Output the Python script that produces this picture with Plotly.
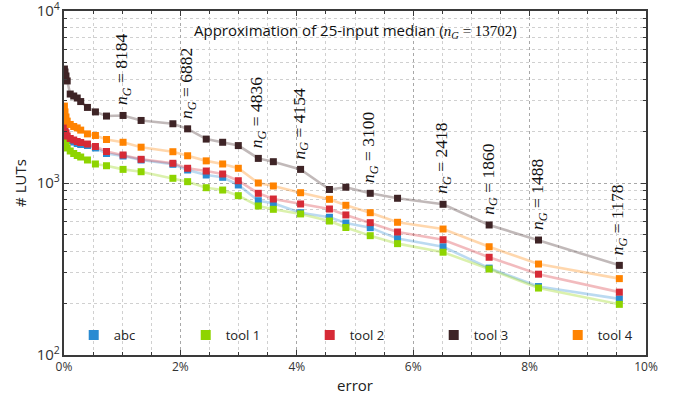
import math
import plotly.graph_objects as go

# error in percent (x positions of each configuration)
error_pct = [0.007, 0.017, 0.034, 0.055, 0.107, 0.167, 0.227, 0.287, 0.403, 0.540,
             0.730, 1.015, 1.325, 1.871, 2.124, 2.444, 2.726, 2.995, 3.339, 3.597,
             4.065, 4.561, 4.843, 5.262, 5.731, 6.513, 7.305, 8.153, 9.542]

abc = [2060, 1955, 1875, 1800, 1767, 1731, 1697, 1674, 1652, 1598, 1484, 1435, 1361,
       1284, 1190, 1113, 1079, 974, 789, 762, 672, 632, 585, 550, 475, 426, 320, 250, 212]
tool1 = [1955, 1800, 1685, 1598, 1535, 1484, 1445, 1416, 1361, 1290, 1260, 1200, 1163,
         1065, 1018, 939, 910, 844, 735, 703, 661, 601, 551, 494, 444, 396, 316, 245, 197]
tool2 = [2145, 2030, 1955, 1875, 1815, 1778, 1743, 1720, 1685, 1630, 1525, 1455, 1373,
         1302, 1218, 1174, 1128, 1031, 871, 807, 755, 706, 652, 588, 519, 468, 370, 295, 232]
tool3 = [4600, 4420, 4190, 3920, 3290, 3205, 3120, 2975, 2750, 2590, 2450, 2470, 2310,
         2210, 2065, 1800, 1725, 1650, 1390, 1330, 1200, 917, 945, 871, 815, 752, 570, 466, 332]
tool4 = [2800, 2590, 2420, 2290, 2190, 2130, 2090, 2030, 1930, 1890, 1790, 1725, 1615,
         1520, 1440, 1345, 1290, 1218, 1000, 961, 878, 804, 742, 672, 591, 540, 426, 338, 278]

series_names = ["abc", "tool 1", "tool 2", "tool 3", "tool 4"]
series_values = [abc, tool1, tool2, tool3, tool4]
series_colors = ["#2a8bd2", "#8ed400", "#d62a36", "#3e2426", "#ff8300"]
line_colors = ["rgba(42,139,210,0.32)", "rgba(142,212,0,0.32)", "rgba(214,42,54,0.32)",
               "rgba(62,36,38,0.32)", "rgba(255,131,0,0.32)"]
legend_widths = [67, 79, 79, 79, 40]

ng_index = [11, 14, 18, 20, 23, 25, 26, 27, 28]
ng_labels = ["8184", "6882", "4836", "4154", "3100", "2418", "1860", "1488", "1178"]
ng_total = "13702"

fig = go.Figure()

for vals, lc in zip(series_values, line_colors):
    fig.add_trace(go.Scatter(x=error_pct, y=vals, mode="lines",
                             line=dict(color=lc, width=2.6),
                             showlegend=False, hoverinfo="skip"))

for name, vals, c in zip(series_names, series_values, series_colors):
    fig.add_trace(go.Scatter(x=error_pct, y=vals, mode="markers", name=name,
                             marker=dict(symbol="square", size=7, color=c),
                             showlegend=False))

for name, c, lw in zip(series_names, series_colors, legend_widths):
    fig.add_trace(go.Scatter(x=[None], y=[None], mode="markers", name=name,
                             marker=dict(symbol="square", size=10, color=c),
                             legendwidth=lw, showlegend=True))

serif = "Liberation Serif"
for idx, lab in zip(ng_index, ng_labels):
    fig.add_annotation(
        x=error_pct[idx], y=math.log10(tool3[idx]),
        xref="x", yref="y",
        text="<i>n</i><sub><i>G</i></sub> = " + lab,
        textangle=-90, showarrow=False, xanchor="center", yanchor="bottom",
        yshift=8, font=dict(family=serif, size=17.5, color="#111111"))

fig.add_annotation(
    x=0.5, y=0.942, xref="paper", yref="paper", showarrow=False,
    xanchor="center", yanchor="middle",
    text=("Approximation of 25-input median ("
          "<span style='font-family:Liberation Serif'><i>n</i><sub><i>G</i></sub> = "
          + ng_total + "</span>)"),
    font=dict(family="Open Sans", size=15, color="#111111"))

grid_major = "#a8a8a8"
grid_minor = "#d0d0d0"
axis_color = "#3a3a3a"

fig.update_xaxes(
    range=[0, 10], dtick=2, ticksuffix="%", showline=True, linecolor=axis_color,
    linewidth=1.5, mirror="allticks", ticks="inside", ticklen=5, tickcolor=axis_color,
    showgrid=True, gridcolor=grid_major, griddash="dot", gridwidth=1, zeroline=False,
    automargin=False, ticklabeloverflow="allow",
    minor=dict(dtick=0.5, ticks="inside", ticklen=3, tickcolor=axis_color,
               showgrid=True, gridcolor=grid_minor, griddash="dot"),
    title=dict(text="error", font=dict(family="Open Sans", size=15, color="#222222"),
               standoff=6),
    tickfont=dict(family="Open Sans", size=12, color="#333333"))

fig.update_yaxes(
    type="log", range=[2, 4], dtick=1, exponentformat="power", showline=True,
    linecolor=axis_color, linewidth=1.5, mirror="allticks", ticks="inside",
    ticklen=5, tickcolor=axis_color, showgrid=True, gridcolor=grid_major,
    griddash="dot", zeroline=False, automargin=False, ticklabeloverflow="allow",
    minor=dict(dtick="D1", ticks="inside", ticklen=3, tickcolor=axis_color,
               showgrid=True, gridcolor=grid_minor, griddash="dot"),
    title=dict(text="# LUTs", font=dict(family="Open Sans", size=15, color="#222222"),
               standoff=6),
    tickfont=dict(family="Open Sans", size=12, color="#333333"))

fig.update_layout(
    width=678, height=399,
    margin=dict(l=64, r=32, t=11, b=44),
    paper_bgcolor="white", plot_bgcolor="white",
    showlegend=True,
    legend=dict(orientation="h", x=0.0167, y=0.058, xanchor="left", yanchor="middle",
                bgcolor="rgba(0,0,0,0)", borderwidth=0,
                font=dict(family="Open Sans", size=13, color="#222222")),
)

fig.write_html("out.html")
